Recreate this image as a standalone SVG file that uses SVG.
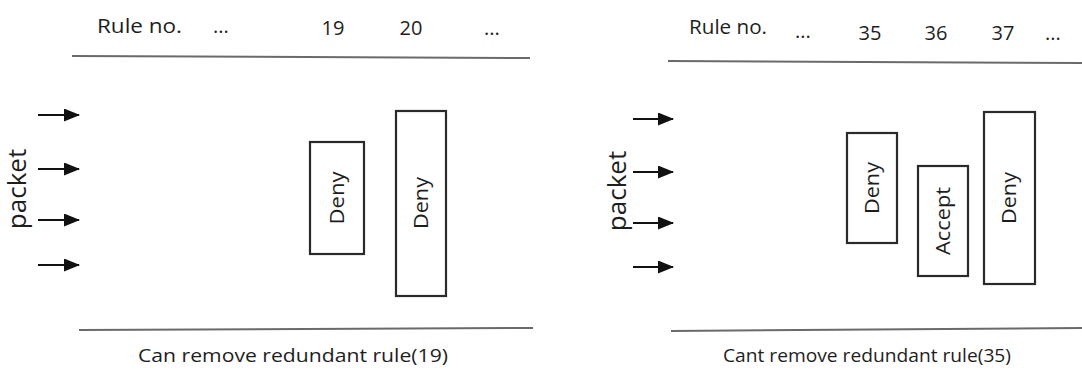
<svg xmlns="http://www.w3.org/2000/svg" width="1082" height="378" viewBox="0 0 1082 378">
<style>
text{font-family:"Open Sans","Noto Sans",sans-serif;fill:#1e1e1e}
.hdr{font-size:20px}
.cap{font-size:19px}
.pk{font-size:26px}
.lbl{font-size:20px}
.rule{fill:none;stroke:#6a6a6a;stroke-width:2}
.box{fill:#fff;stroke:#2a2a2a;stroke-width:2.2}
.arr{stroke:#111;stroke-width:2;fill:none;marker-end:url(#ah)}
</style>
<defs>
<marker id="ah" viewBox="0 0 16 13" refX="15" refY="6.5" markerWidth="16" markerHeight="13" markerUnits="userSpaceOnUse" orient="auto">
<path d="M0,0 L16,6.5 L0,13 Z" fill="#111"/>
</marker>
</defs>

<g id="left-panel">
<text class="hdr" x="97" y="33" textLength="85" lengthAdjust="spacingAndGlyphs">Rule no.</text>
<text class="hdr" x="221" y="33" text-anchor="middle">...</text>
<text class="hdr" x="333" y="35" text-anchor="middle">19</text>
<text class="hdr" x="411" y="35" text-anchor="middle">20</text>
<text class="hdr" x="492" y="35" text-anchor="middle">...</text>
<line class="rule" x1="72" y1="56" x2="530" y2="58"/>
<line class="rule" x1="79" y1="330" x2="533" y2="328"/>
<text class="pk" transform="translate(26,189) rotate(-90)" text-anchor="middle">packet</text>
<text class="cap" x="293" y="362" text-anchor="middle" textLength="310" lengthAdjust="spacingAndGlyphs">Can remove redundant rule(19)</text>
</g>

<g id="rule19">
<rect class="box" x="310" y="142" width="54" height="112"/>
<text class="lbl" transform="translate(344,198) rotate(-90)" text-anchor="middle" textLength="53" lengthAdjust="spacingAndGlyphs">Deny</text>
</g>
<g id="rule20">
<rect class="box" x="396" y="111" width="50" height="185"/>
<text class="lbl" transform="translate(428,203) rotate(-90)" text-anchor="middle" textLength="52" lengthAdjust="spacingAndGlyphs">Deny</text>
</g>

<g id="right-panel">
<text class="hdr" x="689" y="34" textLength="78" lengthAdjust="spacingAndGlyphs">Rule no.</text>
<text class="hdr" x="803" y="38" text-anchor="middle">...</text>
<text class="hdr" x="870" y="40" text-anchor="middle">35</text>
<text class="hdr" x="936" y="40" text-anchor="middle">36</text>
<text class="hdr" x="1003" y="40" text-anchor="middle">37</text>
<text class="hdr" x="1053" y="40" text-anchor="middle">...</text>
<line class="rule" x1="668" y1="61" x2="1082" y2="63"/>
<line class="rule" x1="671" y1="331" x2="1082" y2="328"/>
<text class="pk" transform="translate(626,191) rotate(-90)" text-anchor="middle">packet</text>
<text class="cap" x="867" y="362" text-anchor="middle" textLength="288" lengthAdjust="spacingAndGlyphs">Cant remove redundant rule(35)</text>
</g>

<g id="rule35">
<rect class="box" x="847" y="133" width="50" height="110"/>
<text class="lbl" transform="translate(879,188) rotate(-90)" text-anchor="middle" textLength="52" lengthAdjust="spacingAndGlyphs">Deny</text>
</g>
<g id="rule36">
<rect class="box" x="918" y="166" width="50" height="110"/>
<text class="lbl" transform="translate(950,221) rotate(-90)" text-anchor="middle" textLength="68" lengthAdjust="spacingAndGlyphs">Accept</text>
</g>
<g id="rule37">
<rect class="box" x="984" y="112" width="51" height="172"/>
<text class="lbl" transform="translate(1016,198) rotate(-90)" text-anchor="middle" textLength="52" lengthAdjust="spacingAndGlyphs">Deny</text>
</g>

<g id="connectors">
<line class="arr" x1="38" y1="115" x2="79" y2="115"/>
<line class="arr" x1="38" y1="169" x2="79" y2="169"/>
<line class="arr" x1="38" y1="220" x2="79" y2="220"/>
<line class="arr" x1="38" y1="265" x2="79" y2="265"/>
<line class="arr" x1="633" y1="119" x2="673" y2="119"/>
<line class="arr" x1="633" y1="172" x2="673" y2="172"/>
<line class="arr" x1="633" y1="223" x2="673" y2="223"/>
<line class="arr" x1="633" y1="267" x2="673" y2="267"/>
</g>
</svg>
